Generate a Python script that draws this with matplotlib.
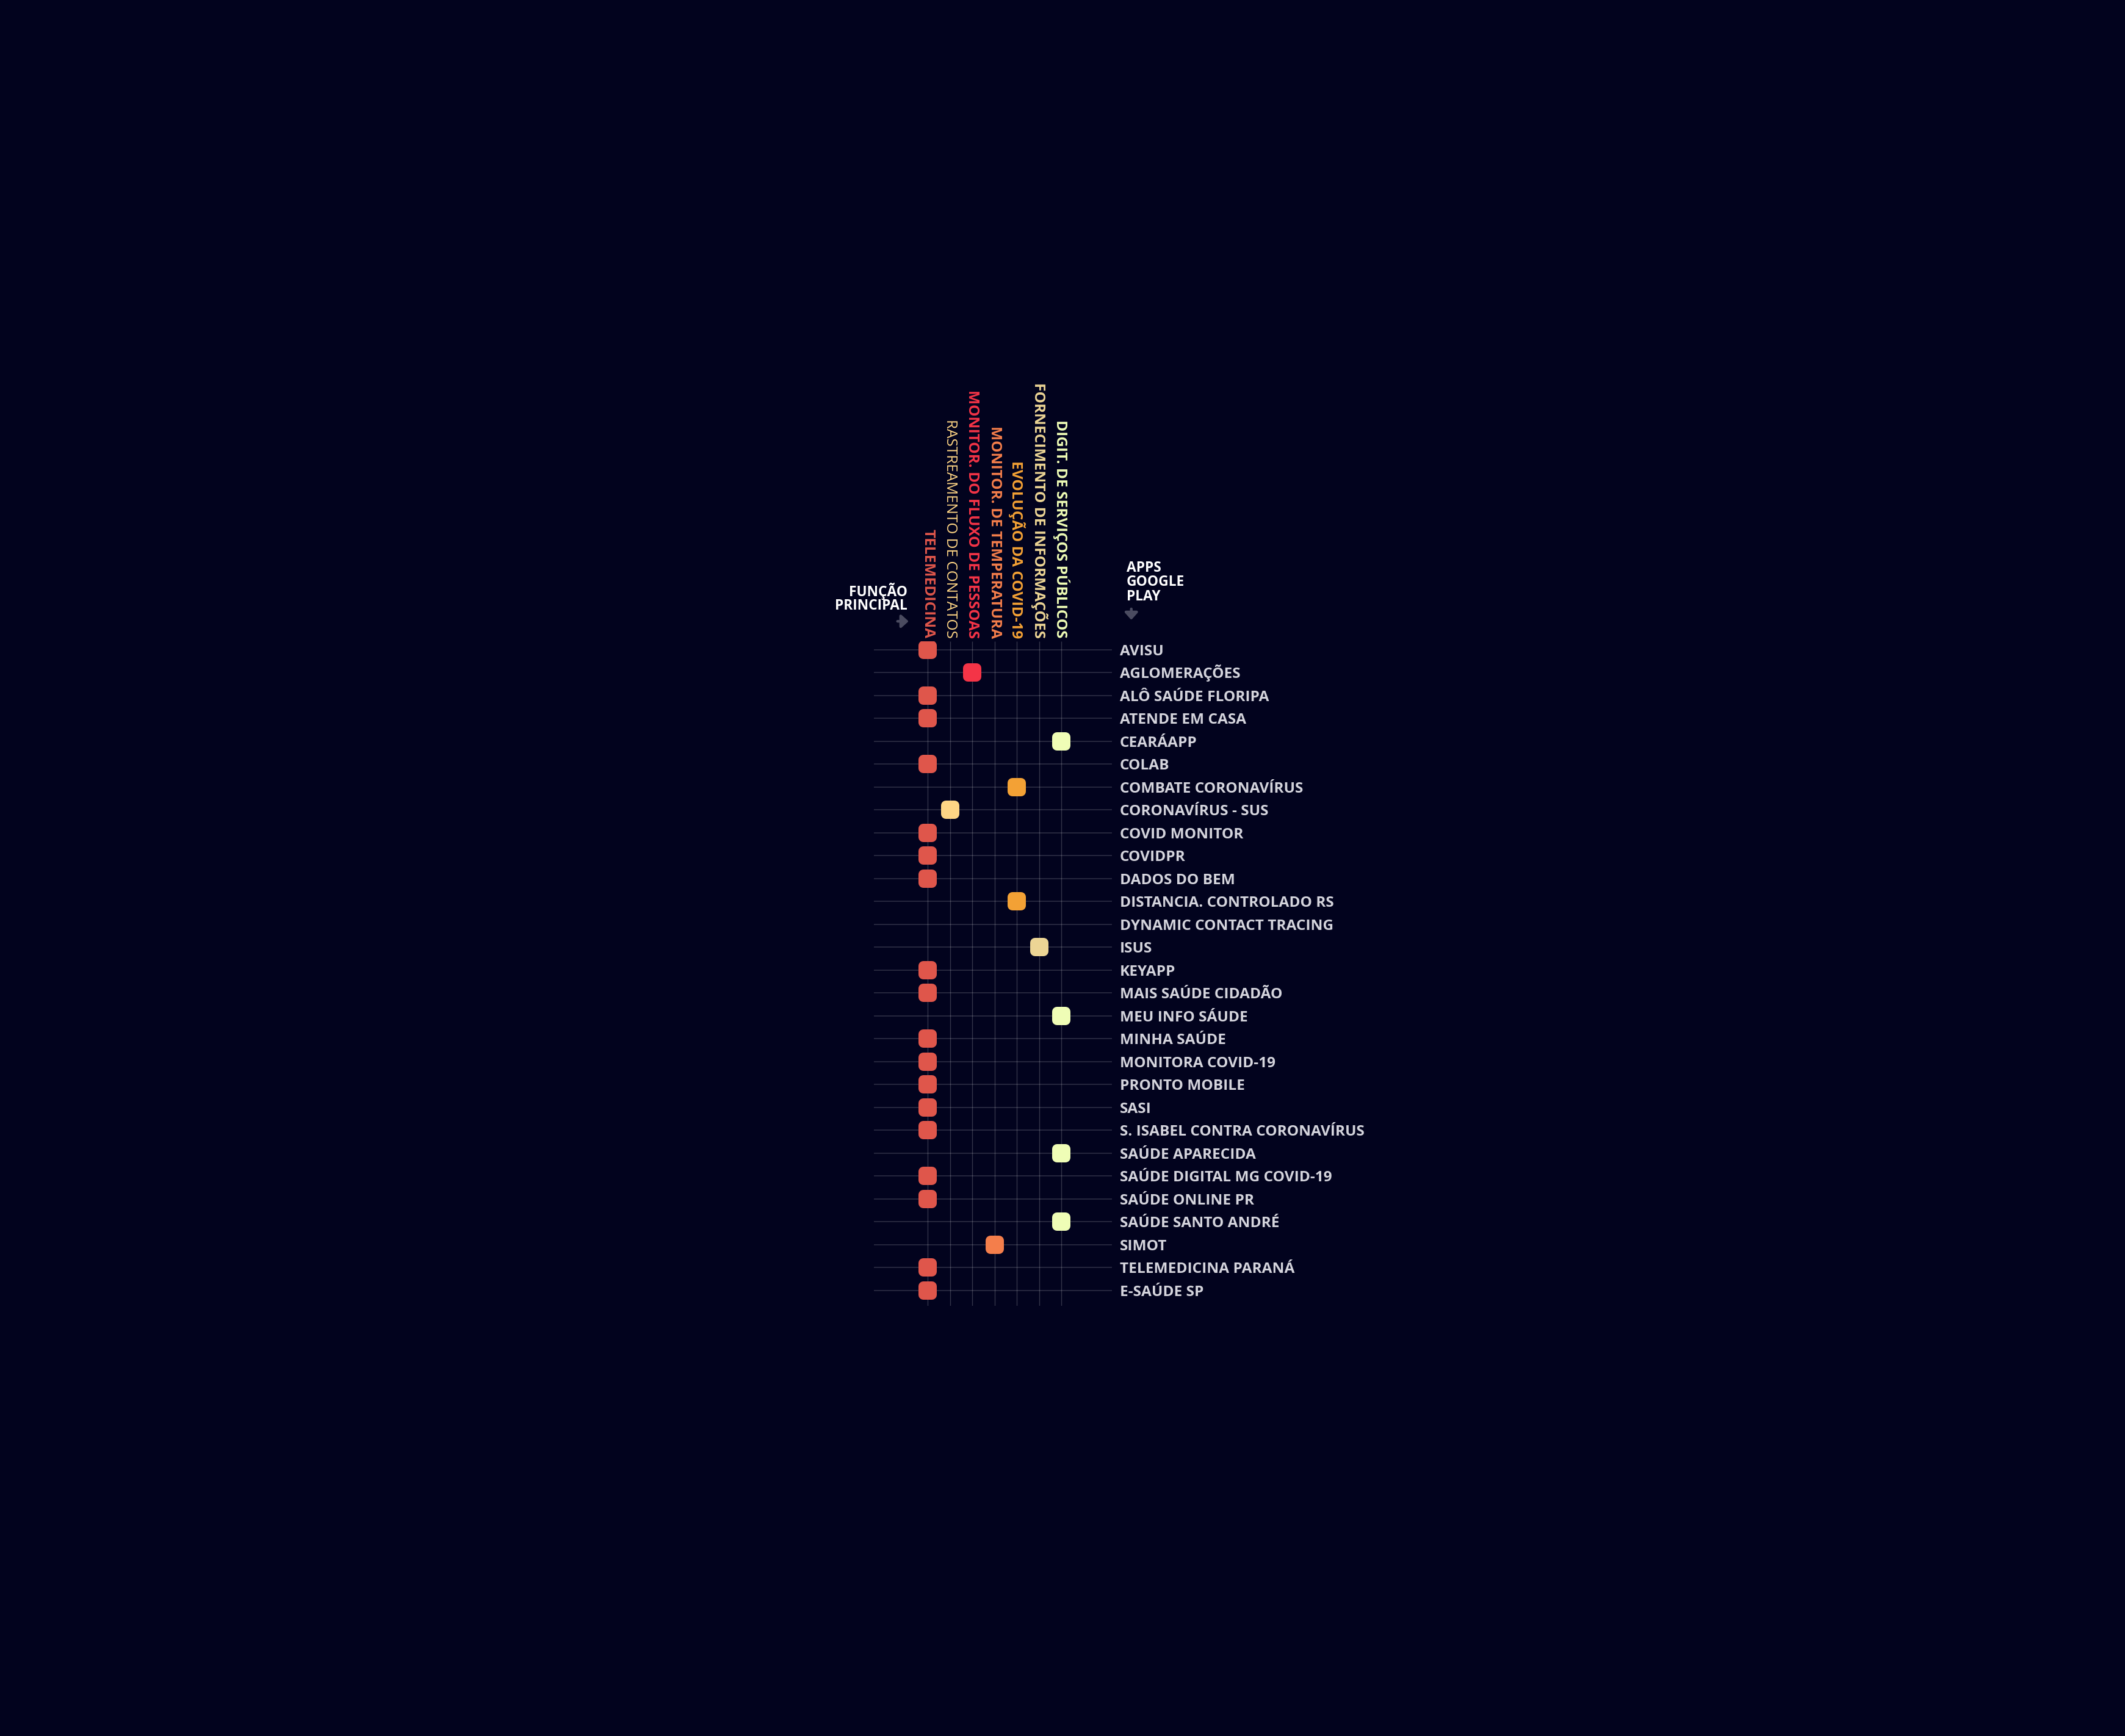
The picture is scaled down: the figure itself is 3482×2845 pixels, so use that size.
import matplotlib.pyplot as plt
from matplotlib.markers import MarkerStyle

# columns (main function of the app)
funcoes = ['TELEMEDICINA', 'RASTREAMENTO DE CONTATOS', 'MONITOR. DO FLUXO DE PESSOAS',
           'MONITOR. DE TEMPERATURA', 'EVOLUÇÃO DA COVID-19',
           'FORNECIMENTO DE INFORMAÇÕES', 'DIGIT. DE SERVIÇOS PÚBLICOS']
cores = ['#DF564B', '#FED585', '#F43447', '#F47E4B', '#F3A135', '#ECD595', '#EFFDB6']
pesos = ['bold', 'normal', 'bold', 'bold', 'bold', 'bold', 'bold']

apps = ['AVISU', 'AGLOMERAÇÕES', 'ALÔ SAÚDE FLORIPA', 'ATENDE EM CASA', 'CEARÁAPP',
        'COLAB', 'COMBATE CORONAVÍRUS', 'CORONAVÍRUS - SUS', 'COVID MONITOR', 'COVIDPR',
        'DADOS DO BEM', 'DISTANCIA. CONTROLADO RS', 'DYNAMIC CONTACT TRACING', 'ISUS',
        'KEYAPP', 'MAIS SAÚDE CIDADÃO', 'MEU INFO SÁUDE', 'MINHA SAÚDE',
        'MONITORA COVID-19', 'PRONTO MOBILE', 'SASI', 'S. ISABEL CONTRA CORONAVÍRUS',
        'SAÚDE APARECIDA', 'SAÚDE DIGITAL MG COVID-19', 'SAÚDE ONLINE PR',
        'SAÚDE SANTO ANDRÉ', 'SIMOT', 'TELEMEDICINA PARANÁ', 'E-SAÚDE SP']
# index into funcoes for each app, None = no marker
funcao_app = [0, 2, 0, 0, 6, 0, 4, 1, 0, 0, 0, 4, None, 5, 0, 0, 6, 0, 0, 0, 0, 0,
              6, 0, 0, 6, 3, 0, 0]

bg = '#02031E'
plt.rcParams['font.family'] = ['Open Sans', 'DejaVu Sans']

fig = plt.figure(figsize=(17.41, 14.225), dpi=200, facecolor=bg)
ax = fig.add_axes([1432 / 3482, 1 - 2140 / 2845, 390 / 3482, 1089 / 2845])
ax.set_facecolor(bg)
ax.set_xlim(-2.42, 8.27)
ax.set_ylim(28.67, -0.365)
ax.axis('off')

nrows = len(apps)
ncols = len(funcoes)
ax.hlines(range(nrows), -2.42, 8.27, color='#FFFFFF', alpha=0.17, lw=0.6, zorder=1)
ax.vlines(range(ncols), -0.365, 28.67, color='#FFFFFF', alpha=0.2, lw=0.5, zorder=1)

xs, ys, cs = [], [], []
for i, f in enumerate(funcao_app):
    if f is None:
        continue
    xs.append(f)
    ys.append(i)
    cs.append(cores[f])
m = MarkerStyle('s', joinstyle='round')
ax.scatter(xs, ys, marker=m, s=(14 * 72 / 200) ** 2, c=cs, edgecolors=cs,
           linewidths=16 * 72 / 200, zorder=3)

for j, nome in enumerate(funcoes):
    ax.text(j, -0.5, nome, rotation=270, ha='center', va='bottom', color=cores[j],
            fontsize=8.8, fontweight=pesos[j])

for i, nome in enumerate(apps):
    ax.text(8.62, i + 0.24, nome, ha='left', va='baseline', color='#D4D4DC',
            fontsize=8.8, fontweight='bold')

# headers
ax.text(-0.92, -2.35, 'FUNÇÃO', ha='right', va='baseline', color='white',
        fontsize=8.2, fontweight='bold')
ax.text(-0.92, -1.74, 'PRINCIPAL', ha='right', va='baseline', color='white',
        fontsize=8.2, fontweight='bold')
seta = dict(arrowstyle='-|>,head_length=0.5,head_width=0.45', color='#4A4B60',
            lw=1.6, mutation_scale=7, shrinkA=0, shrinkB=0)
ax.annotate('', xy=(-0.86, -1.24), xytext=(-1.36, -1.24), arrowprops=seta,
            annotation_clip=False)

for k, linha in enumerate(['APPS', 'GOOGLE', 'PLAY']):
    ax.text(8.92, -3.41 + 0.63 * k, linha, ha='left', va='baseline', color='white',
            fontsize=8.2, fontweight='bold')
ax.annotate('', xy=(9.14, -1.30), xytext=(9.14, -1.78), arrowprops=seta,
            annotation_clip=False)

fig.savefig('out.png', dpi=200, facecolor=bg)
